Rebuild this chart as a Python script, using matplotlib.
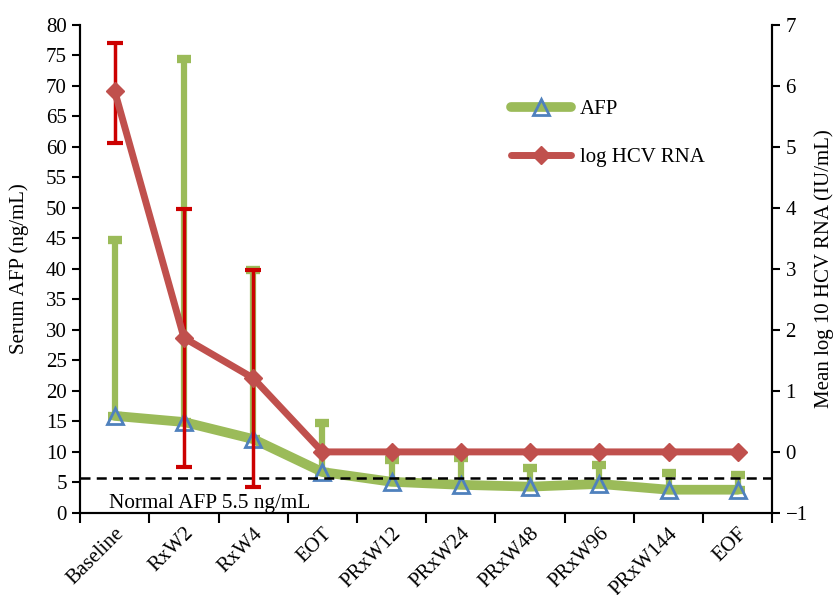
import matplotlib
matplotlib.use("Agg")
import matplotlib.pyplot as plt
from matplotlib.lines import Line2D

# ====== DATA ======
visits = ["Baseline", "RxW2", "RxW4", "EOT", "PRxW12", "PRxW24",
          "PRxW48", "PRxW96", "PRxW144", "EOF"]
afp_mean = [15.9, 14.9, 12.1, 6.7, 5.1, 4.6, 4.3, 4.75, 3.8, 3.8]
afp_upper = [44.7, 74.5, 39.8, 14.7, 8.7, 9.0, 7.4, 7.9, 6.6, 6.2]
hcv_mean = [5.91, 1.87, 1.21, 0, 0, 0, 0, 0, 0, 0]
hcv_upper = [6.71, 3.98, 2.99, 0, 0, 0, 0, 0, 0, 0]
hcv_lower = [5.07, -0.25, -0.57, 0, 0, 0, 0, 0, 0, 0]
normal_afp = 5.8

GREEN = "#9BBB59"
RED_LINE = "#C0504D"
RED_ERR = "#CC0000"
BLUE = "#4F81BD"

plt.rcParams["font.family"] = ["Liberation Serif", "DejaVu Serif"]
plt.rcParams["font.size"] = 15

fig, ax = plt.subplots(figsize=(8.35, 5.95), dpi=100)
fig.subplots_adjust(left=0.096, right=0.925, top=0.958, bottom=0.138)
ax2 = ax.twinx()

x = list(range(len(visits)))

# AFP: only upper error bars
afp_err_up = [u - m for u, m in zip(afp_upper, afp_mean)]
ax.errorbar(x, afp_mean, yerr=[[0] * len(x), afp_err_up], fmt="none",
            ecolor=GREEN, elinewidth=4.5, capsize=5, capthick=6, zorder=2)
ax.plot(x, afp_mean, color=GREEN, lw=7, solid_capstyle="round", zorder=3)
ax.plot(x, afp_mean, ls="none", marker="^", ms=11, mfc="none",
        mec=BLUE, mew=2, zorder=4)

ax.axhline(normal_afp, color="black", ls=(0, (4, 2.5)), lw=1.8, zorder=5)
ax.text(-0.09, 1.5, "Normal AFP 5.5 ng/mL", fontsize=15.3, ha="left", va="center")

# HCV RNA on right axis
hcv_lo = [m - l for m, l in zip(hcv_mean, hcv_lower)]
hcv_hi = [u - m for u, m in zip(hcv_upper, hcv_mean)]
err_idx = [0, 1, 2]
ax2.errorbar([x[i] for i in err_idx], [hcv_mean[i] for i in err_idx],
             yerr=[[hcv_lo[i] for i in err_idx], [hcv_hi[i] for i in err_idx]],
             fmt="none", ecolor=RED_ERR, elinewidth=2.5, capsize=6, capthick=3,
             zorder=2)
ax2.plot(x, hcv_mean, color=RED_LINE, lw=5, marker="D", ms=9, mfc=RED_LINE,
         mec=RED_LINE, zorder=3)

# axes
ax.set_xlim(-0.5, len(visits) - 0.5)
ax.set_ylim(0, 80)
ax.set_yticks(range(0, 81, 5))
ax2.set_ylim(-1, 7)
ax2.set_yticks(range(-1, 8))
ax2.set_yticklabels([str(v).replace("-", "\u2212") for v in range(-1, 8)])

ax.set_xticks([i + 0.5 for i in range(-1, len(visits))], minor=False)
ax.set_xticklabels([])
ax.set_xticks(x, minor=True)
ax.set_xticklabels(visits, minor=True, rotation=45, ha="right",
                   rotation_mode="anchor", fontsize=15)
ax.tick_params(axis="x", which="minor", length=0, pad=8)
ax.tick_params(axis="x", which="major", direction="out", length=7, width=1.5)
ax.tick_params(axis="y", direction="out", length=6, width=1.5, labelsize=15)
ax2.tick_params(axis="y", direction="out", length=6, width=1.5, labelsize=15)

for a in (ax, ax2):
    a.spines["top"].set_visible(False)
    for s in ("left", "right", "bottom"):
        a.spines[s].set_linewidth(1.5)

ax.set_ylabel("Serum AFP (ng/mL)", fontsize=15, labelpad=12)
ax2.set_ylabel("Mean log 10 HCV RNA (IU/mL)", fontsize=15, labelpad=5)

# legend
handles = [
    Line2D([], [], color=GREEN, lw=7, marker="^", ms=11, mfc="none",
           mec=BLUE, mew=2, solid_capstyle="round"),
    Line2D([], [], color=RED_LINE, lw=5, marker="D", ms=9, mfc=RED_LINE,
           mec=RED_LINE, solid_capstyle="round"),
]
ax2.legend(handles, ["AFP", "log HCV RNA"], loc="upper left",
           bbox_to_anchor=(0.595, 0.885), frameon=False, fontsize=15,
           handlelength=2.9, handletextpad=0.4, labelspacing=1.35)

plt.savefig("out.png", dpi=100)
plt.close()
